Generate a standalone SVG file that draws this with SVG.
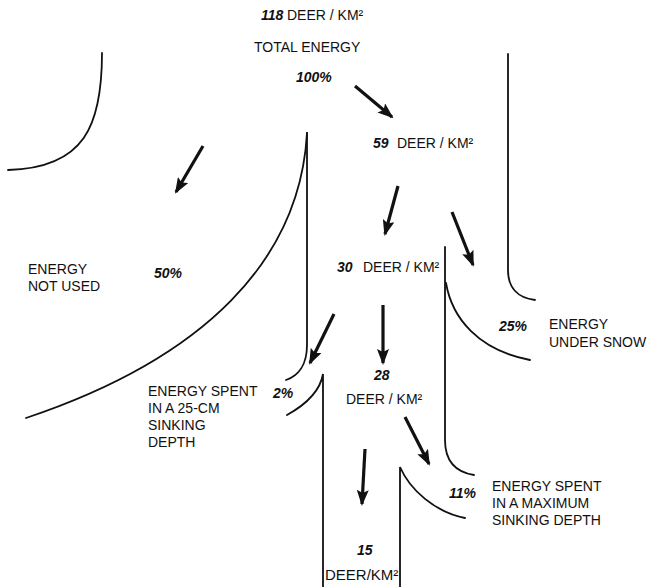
<svg xmlns="http://www.w3.org/2000/svg" width="652" height="587" viewBox="0 0 652 587">
<style>
text{font-family:"Liberation Sans",Arial,Helvetica,sans-serif;font-size:14px;fill:#111}
.n{font-weight:bold;font-style:italic}
.ln{fill:none;stroke:#111;stroke-width:1.8;stroke-linecap:round}
.ar{fill:none;stroke:#111;stroke-width:3.2;marker-end:url(#ah)}
</style>
<defs>
<marker id="ah" markerUnits="userSpaceOnUse" markerWidth="16" markerHeight="12" refX="14" refY="6" orient="auto" viewBox="0 0 16 12">
<path d="M0,0 L16,6 L0,12 L3,6 Z" fill="#111"/>
</marker>
</defs>
<rect width="652" height="587" fill="#fff"/>
<g id="boundaries">
<path class="ln" d="M102,53 C102,125 85,168 8,170"/>
<path class="ln" d="M307,133 C300,260 205,358 26,418"/>
<path class="ln" d="M307,133 L307,345 C307,365 298,376 286,380"/>
<path class="ln" d="M287,415 C305,405 320,392 323,374 L323,587"/>
<path class="ln" d="M445,247 L445,440 C445,460 455,472 474,475"/>
<path class="ln" d="M446,283 C452,318 478,350 530,360"/>
<path class="ln" d="M508,54 L508,270 C508,288 518,298 535,300"/>
<path class="ln" d="M400,587 L400,467 C410,490 435,512 465,518"/>
</g>
<g id="connectors">
<path class="ar" d="M355,86 L392,117"/>
<path class="ar" d="M203,146 L176,192"/>
<path class="ar" d="M398,186 L385,234"/>
<path class="ar" d="M452,212 L473,265"/>
<path class="ar" d="M334,314 L310,363"/>
<path class="ar" d="M383,305 L383,363"/>
<path class="ar" d="M405,417 L429,464"/>
<path class="ar" d="M365,449 L362,504"/>
</g>
<g id="total">
<text x="261" y="20" class="n">118</text><text x="287" y="20">DEER / KM²</text>
<text x="254" y="52">TOTAL ENERGY</text>
<text x="296" y="82" class="n">100%</text>
</g>
<g id="d59"><text x="373" y="148" class="n">59</text><text x="397" y="148">DEER / KM²</text></g>
<g id="not-used">
<text x="28" y="274">ENERGY</text><text x="28" y="291">NOT USED</text>
<text x="154" y="278" class="n">50%</text>
</g>
<g id="d30"><text x="337" y="272" class="n">30</text><text x="363" y="272">DEER / KM²</text></g>
<g id="under-snow">
<text x="499" y="331" class="n">25%</text>
<text x="549" y="329">ENERGY</text><text x="549" y="347">UNDER SNOW</text>
</g>
<g id="spent-25">
<text x="148" y="396">ENERGY SPENT</text><text x="148" y="413">IN A 25-CM</text>
<text x="148" y="430">SINKING</text><text x="148" y="447">DEPTH</text>
<text x="273" y="398" class="n">2%</text>
</g>
<g id="d28"><text x="374" y="380" class="n">28</text><text x="346" y="404">DEER / KM²</text></g>
<g id="spent-max">
<text x="449" y="498" class="n">11%</text>
<text x="492" y="491">ENERGY SPENT</text><text x="492" y="508">IN A MAXIMUM</text><text x="492" y="525">SINKING DEPTH</text>
</g>
<g id="d15"><text x="357" y="555" class="n">15</text><text x="325" y="580" style="font-size:15px">DEER/KM²</text></g>
</svg>
